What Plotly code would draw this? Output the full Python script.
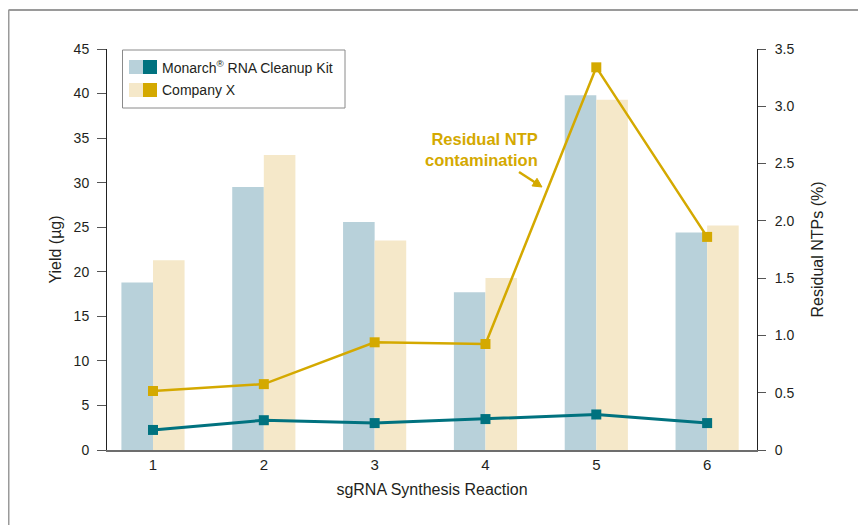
import plotly.graph_objects as go

reactions = [1, 2, 3, 4, 5, 6]
tick_labels = ["1", "2", "3", "4", "5", "6"]
monarch_yield = [18.8, 29.5, 25.6, 17.7, 39.8, 24.4]
companyx_yield = [21.3, 33.1, 23.5, 19.3, 39.3, 25.2]
monarch_ntp = [0.175, 0.26, 0.235, 0.27, 0.31, 0.235]
companyx_ntp = [0.515, 0.575, 0.94, 0.925, 3.34, 1.86]
series_names = ["Monarch<sup>®</sup> RNA Cleanup Kit", "Company X"]

TEAL_L, TEAL_D = "#B8D1DA", "#00727F"
GOLD_L, GOLD_D = "#F5E8C9", "#D4A900"
FONT = "Liberation Sans, Arial, sans-serif"
TXT = "#231f20"

fig = go.Figure()
fig.add_bar(x=reactions, y=monarch_yield, marker=dict(color=TEAL_L, line=dict(width=0)),
            name=series_names[0], showlegend=False)
fig.add_bar(x=reactions, y=companyx_yield, marker=dict(color=GOLD_L, line=dict(width=0)),
            name=series_names[1], showlegend=False)
fig.add_scatter(x=reactions, y=companyx_ntp, yaxis="y2", mode="lines+markers",
                line=dict(color=GOLD_D, width=2.5), marker=dict(symbol="square", size=10, color=GOLD_D),
                showlegend=False)
fig.add_scatter(x=reactions, y=monarch_ntp, yaxis="y2", mode="lines+markers",
                line=dict(color=TEAL_D, width=3), marker=dict(symbol="square", size=10, color=TEAL_D),
                showlegend=False)

W, H = 866, 525
OFF = 8  # page body margin
# target plot area on screen: x 107..757, y 49..450
L, T = 107 - OFF, 49 - OFF
pw, ph = 650, 401
R = W - L - pw
B = H - T - ph

def px(x):
    return (x - OFF - L) / pw

def py(y):
    return (T + ph - (y - OFF)) / ph

shapes = []
shapes.append(dict(type="line", xref="paper", yref="paper", x0=px(8.5), x1=px(880), y0=py(10), y1=py(10),
                   line=dict(color="#9a9a9a", width=2)))
shapes.append(dict(type="line", xref="paper", yref="paper", x0=px(8.5), x1=px(8.5), y0=py(10), y1=py(540),
                   line=dict(color="#9a9a9a", width=2)))
shapes.append(dict(type="rect", xref="paper", yref="paper", x0=px(122.5), x1=px(345), y0=py(50), y1=py(108),
                   line=dict(color="#8a8a8a", width=1), fillcolor="white", layer="above"))
legend_rows = [(60, 74, TEAL_L, TEAL_D), (83, 97, GOLD_L, GOLD_D)]
annotations = []
for (y0, y1, cl, cd), name in zip(legend_rows, series_names):
    shapes.append(dict(type="rect", xref="paper", yref="paper", x0=px(129), x1=px(143), y0=py(y0), y1=py(y1),
                       line=dict(width=0), fillcolor=cl, layer="above"))
    shapes.append(dict(type="rect", xref="paper", yref="paper", x0=px(143), x1=px(157), y0=py(y0), y1=py(y1),
                       line=dict(width=0), fillcolor=cd, layer="above"))
    annotations.append(dict(xref="paper", yref="paper", x=px(160), y=py((y0 + y1) / 2), text=name,
                            showarrow=False, xanchor="left", yanchor="middle",
                            font=dict(family=FONT, size=14, color=TXT)))

annotations.append(dict(xref="paper", yref="paper", x=px(540), y=py(149),
                        text="<b>Residual NTP<br>contamination</b>", showarrow=False,
                        xanchor="right", yanchor="middle", align="right",
                        font=dict(family=FONT, size=16.5, color=GOLD_D)))

# arrow pointing to the Company X line
shapes.append(dict(type="line", xref="paper", yref="paper", x0=px(519), y0=py(172), x1=px(536), y1=py(183),
                   line=dict(color=GOLD_D, width=2.5)))
tri = [(542, 187), (532.0, 185.9), (537.0, 178.3)]
path = "M " + " L ".join(f"{px(a):.5f},{py(b):.5f}" for a, b in tri) + " Z"
shapes.append(dict(type="path", xref="paper", yref="paper", path=path, fillcolor=GOLD_D,
                   line=dict(color=GOLD_D, width=1)))

fig.update_layout(
    width=W, height=H,
    margin=dict(l=L, r=R, t=T, b=B, autoexpand=False),
    paper_bgcolor="white", plot_bgcolor="white",
    barmode="group", bargap=0.43, bargroupgap=0,
    font=dict(family=FONT, size=14, color=TXT),
    showlegend=False,
    xaxis=dict(range=[0.585, 6.45], tickvals=reactions, ticktext=tick_labels, showgrid=False,
               showline=True, linecolor="#6d6d6d", linewidth=2, ticks="", zeroline=False,
               title=dict(text="sgRNA Synthesis Reaction", font=dict(size=16), standoff=12),
               tickfont=dict(size=15)),
    yaxis=dict(range=[0, 45], tickvals=list(range(0, 50, 5)), showgrid=False, zeroline=False,
               showline=True, linecolor="#222", linewidth=1, ticks="outside", ticklen=9,
               tickcolor="#555", tickwidth=1, ticklabelstandoff=5,
               title=dict(text="Yield (µg)", font=dict(size=16), standoff=8)),
    yaxis2=dict(range=[0, 3.5], overlaying="y", side="right",
                tickvals=[0, 0.5, 1.0, 1.5, 2.0, 2.5, 3.0, 3.5],
                ticktext=["0", "0.5", "1.0", "1.5", "2.0", "2.5", "3.0", "3.5"],
                showgrid=False, zeroline=False, showline=True, linecolor="#222", linewidth=1,
                ticks="outside", ticklen=8, tickcolor="#555", tickwidth=1, ticklabelstandoff=6,
                title=dict(text="Residual NTPs (%)", font=dict(size=16), standoff=18)),
    shapes=shapes, annotations=annotations,
)

fig.write_html("out.html")
